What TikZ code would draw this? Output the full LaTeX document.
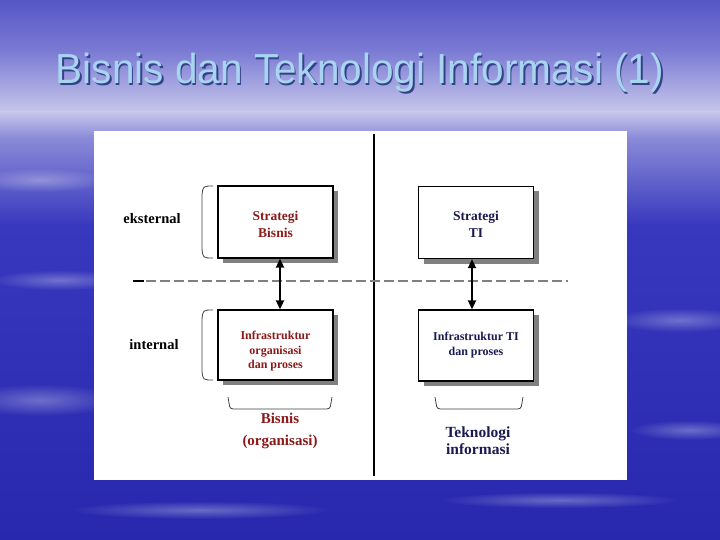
\documentclass[tikz,border=0pt]{standalone}
\usepackage{fontspec}
\setmainfont{Liberation Serif}
\newfontfamily\titlefont{Liberation Sans}
\usetikzlibrary{shadows,fadings,arrows.meta}
\tikzfading[name=cloudfade, inner color=transparent!0, outer color=transparent!100]
\definecolor{bgA}{HTML}{5656C6}
\definecolor{bgB}{HTML}{7A7AD4}
\definecolor{bgC}{HTML}{C6C6EA}
\definecolor{bgD}{HTML}{8A8AD8}
\definecolor{bgE}{HTML}{3838BE}
\definecolor{bgF}{HTML}{2828AE}
\definecolor{bizred}{HTML}{8B1A1A}
\definecolor{itnavy}{HTML}{1A1A50}
\definecolor{titleblue}{HTML}{A8D4F0}
\definecolor{titleshadow}{HTML}{34428A}
\tikzset{
  box/.style={draw=black, line width=1.3pt, fill=white, minimum width=115pt,
    minimum height=72pt, align=center, font=\bfseries,
    drop shadow={shadow xshift=5pt, shadow yshift=-5pt, fill=black!50, opacity=1}},
  sidelabel/.style={font=\bfseries\fontsize{14.5}{16}\selectfont, text=black},
  bracketline/.style={draw=black!75, line width=0.8pt},
  arrowline/.style={line width=1.8pt, {Triangle[length=9pt,width=8pt]}-{Triangle[length=9pt,width=8pt]}},
  cloud/.style={white, path fading=cloudfade, opacity=0.3}
}
\begin{document}
\begin{tikzpicture}[x=1pt,y=-1pt]
\useasboundingbox (0,0) rectangle (720,540);
% background
\shade[top color=bgA, bottom color=bgB] (0,0) rectangle (720,50);
\shade[top color=bgB, bottom color=bgC] (0,50) rectangle (720,112);
\shade[top color=bgC, bottom color=bgD] (0,112) rectangle (720,138);
\shade[top color=bgD, bottom color=bgE] (0,138) rectangle (720,225);
\shade[top color=bgE, bottom color=bgF] (0,225) rectangle (720,540);
% faint clouds
\fill[cloud] (40,400) ellipse (80 and 16);
\fill[cloud] (60,280) ellipse (70 and 10);
\fill[cloud] (680,320) ellipse (70 and 12);
\fill[cloud] (690,430) ellipse (60 and 10);
\fill[cloud] (200,510) ellipse (130 and 9);
\fill[cloud] (560,500) ellipse (120 and 8);
\fill[cloud] (40,180) ellipse (70 and 12);
% title
\node[text=titleshadow, font=\titlefont\fontsize{42}{46}\selectfont, xscale=0.965] (titleshadow) at (361.5,74.5) {Bisnis dan Teknologi Informasi (1)};
\node[text=titleblue, font=\titlefont\fontsize{42}{46}\selectfont, xscale=0.965] (title) at (360,73) {Bisnis dan Teknologi Informasi (1)};
% white panel
\fill[white] (94,131) rectangle (627,480);
% separators
\coordinate (vtop) at (374,134);
\coordinate (vbot) at (374,476);
\draw[line width=1.2pt] (vtop) -- (vbot);
\coordinate (dsa) at (133,281);
\coordinate (dsb) at (144,281);
\coordinate (dsc) at (146,281);
\coordinate (dsd) at (568,281);
\draw[line width=1.2pt] (dsa) -- (dsb);
\draw[black!50, line width=1.8pt, dash pattern=on 10pt off 4pt] (dsc) -- (dsd);
% boxes
\node[box, text=bizred, font=\bfseries\fontsize{13.5}{17}\selectfont] (sb) at (275.5,222) {\rule{0pt}{13.5pt}Strategi\\Bisnis};
\node[box, text=itnavy, font=\bfseries\fontsize{13.5}{17}\selectfont] (sti) at (476,222.5) {\rule{0pt}{13.5pt}Strategi\\TI};
\node[box, minimum height=70pt, text=bizred, font=\bfseries\fontsize{12}{14.5}\selectfont] (ib) at (275.5,345) {\rule{0pt}{21pt}Infrastruktur\\organisasi\\dan proses};
\node[box, minimum height=71pt, text=itnavy, font=\bfseries\fontsize{12}{15}\selectfont] (iti) at (476,345.5) {Infrastruktur TI\\dan proses};
% arrows
\draw[arrowline] ([xshift=4.5pt]sb.south) -- ([xshift=4.5pt]ib.north);
\draw[arrowline] ([xshift=-4pt]sti.south) -- ([xshift=-4pt]iti.north);
% side labels
\node[sidelabel] (ext) at (152,219) {eksternal};
\node[sidelabel] (int) at (154,345) {internal};
% left brackets
\draw[bracketline] (213,186) .. controls (203,186) .. (202,195) -- (202,249) .. controls (203,258) .. (213,258);
\draw[bracketline] (213,310) .. controls (203,310) .. (202,319) -- (202,371) .. controls (203,380) .. (213,380);
% bottom brackets
\draw[bracketline] (228,397) -- (229,403) .. controls (230,409) .. (237,409) -- (323,409) .. controls (330,409) .. (331,403) -- (332,397);
\draw[bracketline] (435,397) -- (436,403) .. controls (437,409) .. (444,409) -- (514,409) .. controls (521,409) .. (522,403) -- (523,397);
% bottom labels
\node[text=bizred, font=\bfseries\fontsize{15}{22}\selectfont, align=center] (biz) at (280,431) {Bisnis\\(organisasi)};
\node[text=itnavy, font=\bfseries\fontsize{15.5}{17}\selectfont, align=center] (it) at (478,441) {Teknologi\\informasi};
\end{tikzpicture}
\end{document}
